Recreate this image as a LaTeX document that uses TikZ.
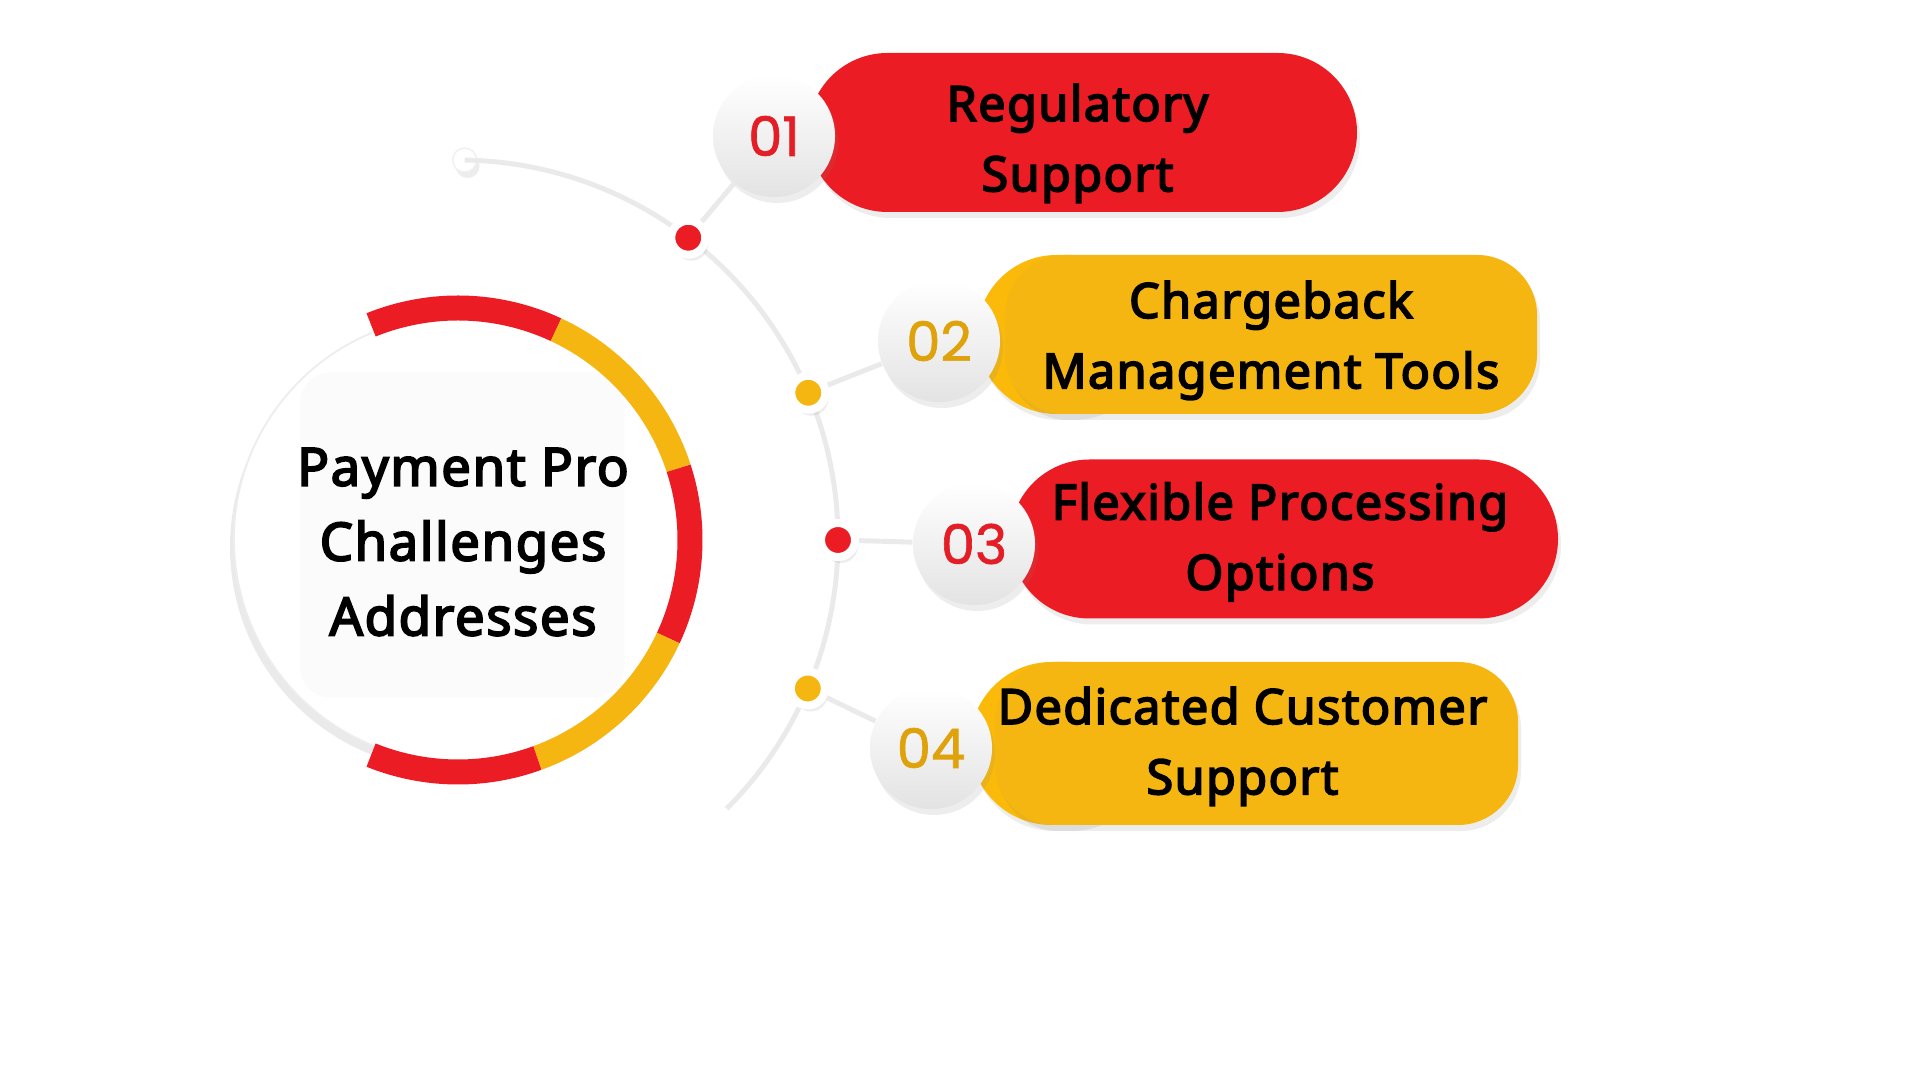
\documentclass[tikz,border=0pt]{standalone}
\usepackage{fontspec}
\setmainfont{Noto Sans}
\newfontfamily\heavyfont{Noto Sans}[FakeBold=3.5,LetterSpace=3]
\newfontfamily\numfont{Poppins}[FakeBold=1.2]
\usepackage{xcolor}
\definecolor{Crimson}{HTML}{EC1C24}
\definecolor{Amber}{HTML}{F6B612}
\definecolor{AmberDeep}{HTML}{FBBA0A}
\definecolor{NumRed}{HTML}{E41E26}
\definecolor{NumGold}{HTML}{DFA20B}
\definecolor{Track}{HTML}{EAEAEA}
\definecolor{Haze}{HTML}{FBFBFB}
\usepackage{tikz}
\usetikzlibrary{shapes.misc,shadows,positioning}

\begin{document}
\begin{tikzpicture}[
  softshadow/.style={drop shadow={opacity=0.14,shadow xshift=0.03cm,shadow yshift=-0.06cm}},
  hub/.style={circle,fill=white,draw=black!7,line width=0.5pt,minimum size=4.46cm,inner sep=0pt,
    drop shadow={opacity=0.16,shadow xshift=-0.04cm,shadow yshift=-0.08cm}},
  hubtitle/.style={align=center,font=\heavyfont\fontsize{15}{21.3}\selectfont},
  ringpart/.style={line width=0.25cm},
  track/.style={draw=Track,line width=1.4pt},
  badge/.style={circle,minimum size=1.22cm,inner sep=0pt,top color=white,bottom color=black!11,softshadow,font=\numfont\fontsize{15.5}{15.5}\selectfont},
  pill/.style={rounded rectangle,minimum height=1.59cm,inner sep=0pt,softshadow},
  block/.style={rectangle,rounded corners=0.6cm,minimum height=1.59cm,inner sep=0pt,softshadow},
  pilltext/.style={align=center,inner sep=0pt,font=\heavyfont\fontsize{13.8}{20}\selectfont},
  knot/.style={circle,draw=white,line width=0.08cm,minimum size=0.34cm,inner sep=0pt,softshadow},
  link/.style={draw=Track,line width=1.4pt}
]
  \useasboundingbox (0,0) rectangle (19.2,10.8);
  \fill[white] (0,0) rectangle (19.2,10.8);
  \coordinate (C) at (4.58,5.40);

  % centre disc and ring
  \node[hub] (hubdisc) at (4.57,5.41) {};
  \node[fill=Haze,rounded corners=0.3cm,minimum width=3.24cm,minimum height=3.25cm] (haze) at (4.62,5.45) {};
  \foreach \a/\b/\c in {112/65/Crimson,65/18/Amber,18/-25/Crimson,-25/-70/Amber,-70/-112/Crimson}
    \draw[ringpart,\c] ([shift={(\a:2.32)}]C) arc[start angle=\a,end angle=\b,radius=2.32];
  \node[hubtitle] (title) at (4.63,5.38) {Payment Pro\\Challenges\\Addresses};

  % outer track
  \node[circle,fill=white,draw=black!6,minimum size=0.24cm,inner sep=0pt,softshadow] (tail) at ([shift={(89:3.8)}]C) {};
  \draw[track] (tail.center) arc[start angle=89,end angle=-45,radius=3.8];

  % pills
  \node[pill,fill=Crimson,minimum width=5.49cm] (p1) at (10.825,9.475) {};
  \node[pill,fill=AmberDeep,minimum width=1.73cm] (cap2) at (10.635,7.455) {};
  \node[block,fill=Amber,minimum width=5.32cm] (p2) at (12.71,7.455) {};
  \node[pill,fill=Crimson,minimum width=5.48cm] (p3) at (12.84,5.41) {};
  \node[pill,fill=AmberDeep,minimum width=1.80cm,minimum height=1.63cm] (cap4) at (10.60,3.365) {};
  \node[block,fill=Amber,minimum width=5.23cm,minimum height=1.63cm] (p4) at (12.565,3.365) {};

  \node[pilltext] (t1) at ([xshift=-0.05cm,yshift=-0.11cm]p1.center) {Regulatory\\Support};
  \node[pilltext] (t2) at ([yshift=-0.06cm]p2.center) {Chargeback\\Management Tools};
  \node[pilltext] (t3) at ([xshift=-0.04cm,yshift=-0.03cm]p3.center) {Flexible Processing\\Options};
  \node[pilltext] (t4) at ([xshift=-0.14cm,yshift=-0.03cm]p4.center) {Dedicated Customer\\Support};

  % number badges
  \node[badge,text=NumRed] (n1) at (7.74,9.44) {01};
  \node[badge,text=NumGold] (n2) at (9.39,7.39) {02};
  \node[badge,text=NumRed] (n3) at (9.74,5.36) {03};
  \node[badge,text=NumGold] (n4) at (9.31,3.32) {04};

  % knots on the track
  \node[knot,fill=Crimson] (d1) at ([shift={(52.7:3.8)}]C) {};
  \node[knot,fill=Amber] (d2) at ([shift={(22.8:3.8)}]C) {};
  \node[knot,fill=Crimson] (d3) at ([shift={(0:3.8)}]C) {};
  \node[knot,fill=Amber] (d4) at ([shift={(-23:3.8)}]C) {};

  \draw[link] (d1) -- (n1);
  \draw[link] (d2) -- (n2);
  \draw[link] (d3) -- (n3);
  \draw[link] (d4) -- (n4);
\end{tikzpicture}
\end{document}
